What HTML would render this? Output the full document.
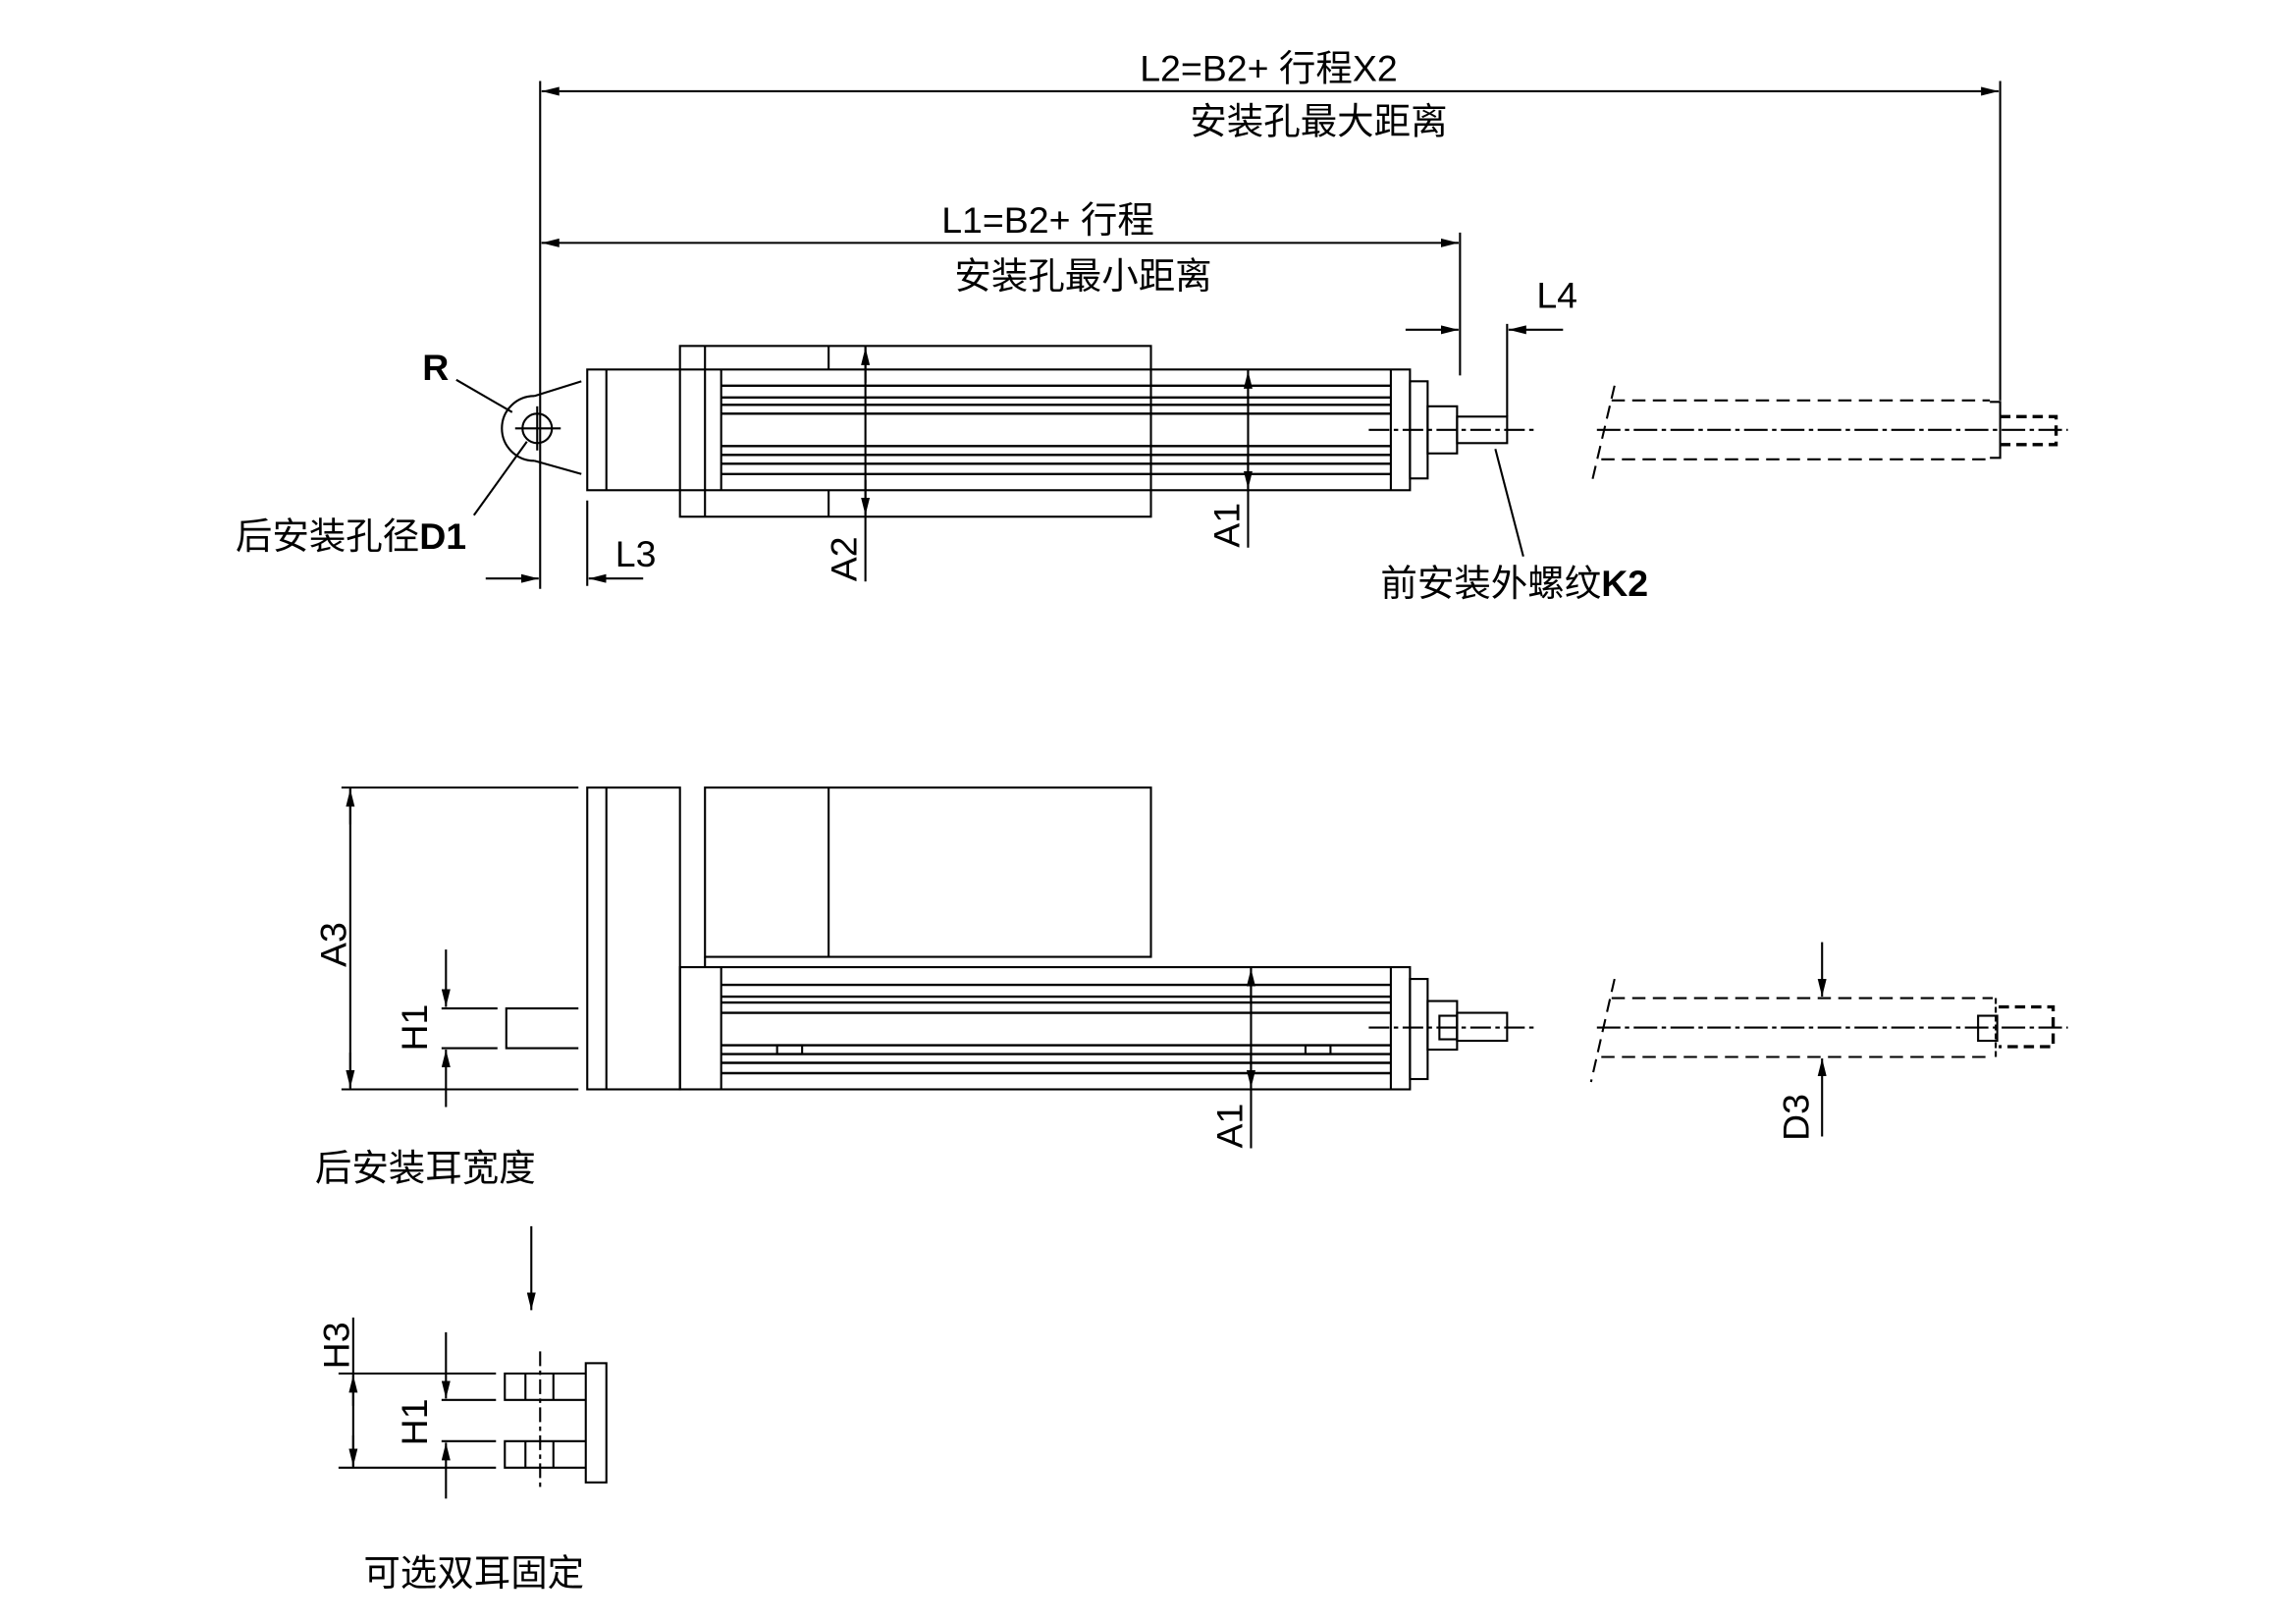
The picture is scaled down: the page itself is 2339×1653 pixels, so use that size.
<!DOCTYPE html>
<html><head><meta charset="utf-8"><style>
html,body{margin:0;padding:0;background:#fff;}
svg{display:block;}
text{font-family:"Liberation Sans","Noto Sans CJK SC",sans-serif;fill:#000;}
</style></head><body>
<svg width="2339" height="1653" viewBox="0 0 1560 1102.5" preserveAspectRatio="none" xmlns="http://www.w3.org/2000/svg">
<defs>
<marker id="a" viewBox="0 0 12 6" refX="12" refY="3" markerWidth="12" markerHeight="6" markerUnits="userSpaceOnUse" orient="auto"><path d="M0,0 L12,3 L0,6 Z" fill="#000"/></marker>
</defs>
<g stroke="#000" stroke-width="1.4" fill="none">
<!-- L2 -->
<line x1="367" y1="55" x2="367" y2="400"/>
<line x1="1359" y1="55" x2="1359" y2="272"/>
<line x1="380" y1="62" x2="1346" y2="62"/>
<line x1="380" y1="62" x2="368" y2="62" marker-end="url(#a)"/>
<line x1="1346" y1="62" x2="1358" y2="62" marker-end="url(#a)"/>
<!-- L1 -->
<line x1="992" y1="158" x2="992" y2="255"/>
<line x1="368" y1="165" x2="991" y2="165"/>
<line x1="380" y1="165" x2="368" y2="165" marker-end="url(#a)"/>
<line x1="980" y1="165" x2="991" y2="165" marker-end="url(#a)"/>
<!-- L4 -->
<line x1="1024" y1="220" x2="1024" y2="283"/>
<line x1="955" y1="224" x2="991" y2="224" marker-end="url(#a)"/>
<line x1="1062" y1="224" x2="1025" y2="224" marker-end="url(#a)"/>
<!-- clevis -->
<circle cx="365" cy="291" r="10"/>
<line x1="350" y1="291" x2="381" y2="291"/><line x1="365" y1="276" x2="365" y2="306"/>
<path d="M363,269 L395,259 M363,313 L395,322 M363,269 A22,22 0 0 0 363,313"/>
<!-- body top view -->
<rect x="399" y="251" width="559" height="82"/>
<line x1="412" y1="251" x2="412" y2="333"/>
<rect x="462" y="235" width="320" height="116"/>
<line x1="479" y1="235" x2="479" y2="351"/>
<line x1="563" y1="235" x2="563" y2="251"/><line x1="563" y1="333" x2="563" y2="351"/>
<line x1="490" y1="251" x2="490" y2="333"/>
<line x1="945" y1="251" x2="945" y2="333"/>
<g stroke-width="1.6">
<line x1="490" y1="262" x2="945" y2="262"/><line x1="490" y1="270" x2="945" y2="270"/>
<line x1="490" y1="275" x2="945" y2="275"/><line x1="490" y1="281" x2="945" y2="281"/>
<line x1="490" y1="303" x2="945" y2="303"/><line x1="490" y1="309" x2="945" y2="309"/>
<line x1="490" y1="315" x2="945" y2="315"/><line x1="490" y1="322" x2="945" y2="322"/>
</g>
<rect x="958" y="259" width="12" height="66"/>
<rect x="970" y="276" width="20" height="32"/>
<rect x="990" y="283" width="34" height="18"/>
<line x1="930" y1="292" x2="1042" y2="292" stroke-dasharray="14,3,3,3"/>
<!-- A2 -->
<line x1="588" y1="235" x2="588" y2="395"/>
<line x1="588" y1="260" x2="588" y2="236" marker-end="url(#a)"/>
<line x1="588" y1="326" x2="588" y2="350" marker-end="url(#a)"/>
<!-- A1 -->
<line x1="848" y1="251" x2="848" y2="372"/>
<line x1="848" y1="275" x2="848" y2="252" marker-end="url(#a)"/>
<line x1="848" y1="309" x2="848" y2="332" marker-end="url(#a)"/>
<!-- L3 / D1 -->
<line x1="399" y1="340" x2="399" y2="398"/>
<line x1="437" y1="393" x2="400" y2="393" marker-end="url(#a)"/>
<line x1="330" y1="393" x2="366" y2="393" marker-end="url(#a)"/>
<line x1="310" y1="258" x2="348" y2="280"/>
<line x1="358" y1="300" x2="322" y2="350"/>
<line x1="1016" y1="305" x2="1035" y2="378"/>
<!-- stroke right top -->
<g stroke-dasharray="9,5">
<line x1="1095" y1="272" x2="1352" y2="272"/>
<line x1="1088" y1="312" x2="1352" y2="312"/>
<line x1="1097" y1="262" x2="1081" y2="330"/>
</g>
<path d="M1352,273 L1359,273 L1359,311 L1352,311"/>
<g stroke-dasharray="7,4" stroke-width="2.2">
<path d="M1359,283 L1397,283 L1397,302 L1359,302"/>
</g>
<line x1="1085" y1="292" x2="1405" y2="292" stroke-dasharray="16,3,3,3"/>

<!-- bottom view -->
<line x1="232" y1="535" x2="393" y2="535"/><line x1="232" y1="740" x2="393" y2="740"/>
<line x1="238" y1="535" x2="238" y2="740"/>
<line x1="238" y1="560" x2="238" y2="536" marker-end="url(#a)"/>
<line x1="238" y1="715" x2="238" y2="739" marker-end="url(#a)"/>
<rect x="399" y="535" width="63" height="205"/>
<line x1="412" y1="535" x2="412" y2="740"/>
<rect x="479" y="535" width="303" height="115"/>
<line x1="563" y1="535" x2="563" y2="650"/>
<line x1="479" y1="650" x2="479" y2="657"/>
<rect x="462" y="657" width="496" height="83"/>
<line x1="490" y1="657" x2="490" y2="740"/>
<line x1="945" y1="657" x2="945" y2="740"/>
<g stroke-width="1.6">
<line x1="490" y1="669" x2="945" y2="669"/><line x1="490" y1="677" x2="945" y2="677"/>
<line x1="490" y1="681" x2="945" y2="681"/><line x1="490" y1="688" x2="945" y2="688"/>
<line x1="490" y1="710" x2="945" y2="710"/><line x1="490" y1="716" x2="945" y2="716"/>
<line x1="490" y1="722" x2="945" y2="722"/><line x1="490" y1="729" x2="945" y2="729"/>
</g>
<rect x="528" y="710" width="17" height="6"/><rect x="887" y="710" width="17" height="6"/>
<rect x="958" y="665" width="12" height="68"/>
<rect x="970" y="680" width="20" height="33"/>
<rect x="978" y="690" width="12" height="16"/>
<rect x="990" y="688" width="34" height="19"/>
<line x1="930" y1="698" x2="1042" y2="698" stroke-dasharray="14,3,3,3"/>
<!-- ear -->
<path d="M393,685 L344,685 L344,712 L393,712"/>
<line x1="300" y1="685" x2="338" y2="685"/><line x1="300" y1="712" x2="338" y2="712"/>
<line x1="303" y1="645" x2="303" y2="684" marker-end="url(#a)"/>
<line x1="303" y1="752" x2="303" y2="713" marker-end="url(#a)"/>
<!-- A1 bottom -->
<line x1="850" y1="657" x2="850" y2="780"/>
<line x1="850" y1="680" x2="850" y2="658" marker-end="url(#a)"/>
<line x1="850" y1="716" x2="850" y2="739" marker-end="url(#a)"/>
<!-- D3 -->
<g stroke-dasharray="9,5">
<line x1="1095" y1="678" x2="1354" y2="678"/>
<line x1="1088" y1="718" x2="1354" y2="718"/>
<line x1="1097" y1="665" x2="1081" y2="735"/>
<line x1="1356" y1="678" x2="1356" y2="718" stroke-dasharray="4,2"/>
</g>
<rect x="1344" y="690" width="13" height="17"/>
<g stroke-dasharray="7,4" stroke-width="2.2">
<path d="M1358,684 L1395,684 L1395,711 L1358,711"/>
</g>
<line x1="1085" y1="698" x2="1405" y2="698" stroke-dasharray="16,3,3,3"/>
<line x1="1238" y1="640" x2="1238" y2="677" marker-end="url(#a)"/>
<line x1="1238" y1="772" x2="1238" y2="719" marker-end="url(#a)"/>
<!-- arrow down -->
<line x1="361" y1="833" x2="361" y2="890" marker-end="url(#a)"/>
<!-- double ear -->
<rect x="398" y="926" width="14" height="81"/>
<path d="M398,933 L343,933 L343,951 L398,951 M398,979 L343,979 L343,997 L398,997"/>
<line x1="357" y1="933" x2="357" y2="951"/><line x1="376" y1="933" x2="376" y2="951"/>
<line x1="357" y1="979" x2="357" y2="997"/><line x1="376" y1="979" x2="376" y2="997"/>
<line x1="367" y1="918" x2="367" y2="1012" stroke-dasharray="10,3,3,3"/>
<line x1="230" y1="933" x2="337" y2="933"/><line x1="230" y1="997" x2="337" y2="997"/>
<line x1="300" y1="951" x2="337" y2="951"/><line x1="300" y1="979" x2="337" y2="979"/>
<line x1="240" y1="895" x2="240" y2="997"/>
<line x1="240" y1="955" x2="240" y2="934" marker-end="url(#a)"/>
<line x1="240" y1="975" x2="240" y2="996" marker-end="url(#a)"/>
<line x1="303" y1="905" x2="303" y2="950" marker-end="url(#a)"/>
<line x1="303" y1="1018" x2="303" y2="980" marker-end="url(#a)"/>
</g>
<g font-size="25">
<text x="862" y="55" text-anchor="middle">L2=B2+ 行程X2</text>
<text x="896" y="91" text-anchor="middle">安装孔最大距离</text>
<text x="712" y="158" text-anchor="middle">L1=B2+ 行程</text>
<text x="736" y="196" text-anchor="middle">安装孔最小距离</text>
<text x="1044" y="209">L4</text>
<text x="418" y="385">L3</text>
<text x="287" y="258" font-weight="bold">R</text>
<text x="160" y="373">后安装孔径<tspan font-weight="bold">D1</tspan></text>
<text x="938" y="405">前安装外螺纹<tspan font-weight="bold">K2</tspan></text>
<text x="214" y="802">后安装耳宽度</text>
<text x="247" y="1077">可选双耳固定</text>
<text transform="translate(582,395) rotate(-90)">A2</text>
<text transform="translate(842,372) rotate(-90)">A1</text>
<text transform="translate(844,780) rotate(-90)">A1</text>
<text transform="translate(235,657) rotate(-90)">A3</text>
<text transform="translate(290,714) rotate(-90)">H1</text>
<text transform="translate(1229,775) rotate(-90)">D3</text>
<text transform="translate(237,930) rotate(-90)">H3</text>
<text transform="translate(290,982) rotate(-90)">H1</text>
</g>
</svg>
</body></html>
